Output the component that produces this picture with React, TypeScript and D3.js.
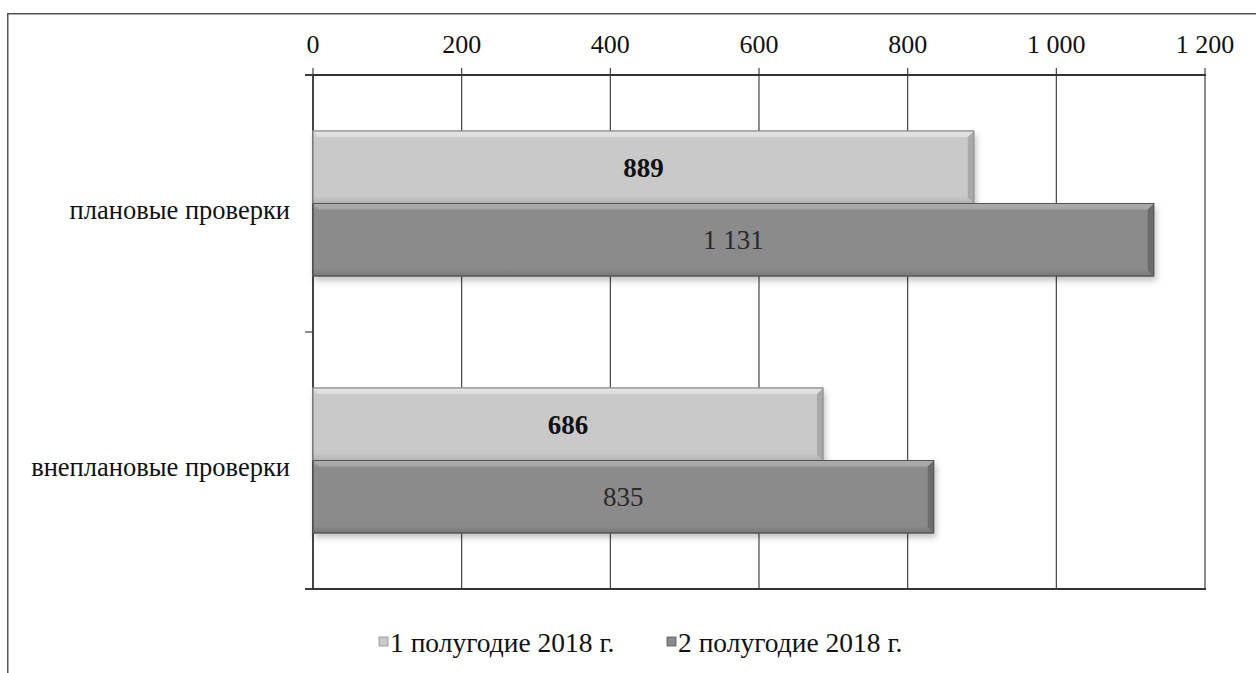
import React from "react";
import * as d3 from "d3";

const categories = ["плановые проверки", "внеплановые проверки"];
const seriesNames = ["1 полугодие 2018 г.", "2 полугодие 2018 г."];
const series1 = [889, 686];
const series2 = [1131, 835];
const xTicks = [0, 200, 400, 600, 800, 1000, 1200];

const W = 1256;
const H = 673;
const PL = 313;
const PR = 1205;
const PT = 75;
const PB = 589;

const fmt = (v: number) => d3.format(",")(v).replace(/,/g, " ");

const styles = [
  { fill: "#c9c9c9", hi: "#e2e2e2", lo: "#b3b3b3", edge: "#a9a9a9", stroke: "#8e8e8e", label: "#111", weight: 700 },
  { fill: "#8b8b8b", hi: "#ababab", lo: "#777", edge: "#6c6c6c", stroke: "#555", label: "#2a2a2a", weight: 400 },
];

const FONT = { fontFamily: "'Liberation Serif', 'Times New Roman', 'DejaVu Serif', serif" };

export default function App() {
  const x = d3.scaleLinear().domain([0, 1200]).range([PL, PR]);
  const y0 = d3.scaleBand<string>().domain(categories).range([PT, PB]).paddingInner(0.436).paddingOuter(0.218);
  const y1 = d3.scaleBand<string>().domain(["s1", "s2"]).range([0, y0.bandwidth()]);
  const data = [series1, series2];
  const catTicks = [PT, (PT + PB) / 2, PB];

  return (
    <svg width={W} height={H} style={{ position: "fixed", left: 0, top: 0, background: "#fff" }}>
      <defs>
        <filter id="sh" x="-5%" y="-20%" width="115%" height="160%">
          <feDropShadow dx="2" dy="4" stdDeviation="3" floodColor="#000" floodOpacity="0.25" />
        </filter>
        {styles.map((s, i) => (
          <linearGradient key={i} id={`g${i}`} x1="0" y1="0" x2="0" y2="1">
            <stop offset="0" stopColor={s.hi} />
            <stop offset="0.1" stopColor={s.fill} />
            <stop offset="0.9" stopColor={s.fill} />
            <stop offset="1" stopColor={s.lo} />
          </linearGradient>
        ))}
      </defs>
      <rect x={0} y={0} width={W} height={H} fill="#fff" />
      {/* frame */}
      <rect x={7} y={13} width={W - 7} height={1.5} fill="#555" />
      <rect x={7} y={13} width={1.5} height={H - 13} fill="#555" />

      {/* gridlines and top ticks */}
      {xTicks.map((t) => (
        <rect key={t} x={x(t) - 0.6} y={PT - 7} width={1.2} height={PB - PT + 7} fill="#444" />
      ))}
      <rect x={PL - 8} y={PT - 1} width={PR - PL + 9} height={2} fill="#333" />
      <rect x={PL - 8} y={PB - 1} width={PR - PL + 9} height={2} fill="#333" />
      <rect x={PL - 0.8} y={PT} width={1.6} height={PB - PT} fill="#333" />
      {catTicks.map((t, i) => (
        <rect key={i} x={PL - 8} y={t - 0.6} width={8} height={1.2} fill="#444" />
      ))}
      {xTicks.map((t) => (
        <text key={t} x={x(t)} y={53} textAnchor="middle" fontSize={26} fill="#111" style={FONT}>
          {fmt(t)}
        </text>
      ))}

      {/* bars */}
      {categories.map((c, ci) => (
        <g key={c}>
          {data.map((arr, si) => {
            const s = styles[si];
            const by = (y0(c) ?? 0) + (y1(si === 0 ? "s1" : "s2") ?? 0);
            const bh = y1.bandwidth();
            const bx = x(0);
            const bw = x(arr[ci]) - x(0);
            const bev = 6;
            return (
              <g key={si}>
                <rect x={bx} y={by} width={bw} height={bh} fill={`url(#g${si})`} stroke={s.stroke} strokeWidth={1} filter="url(#sh)" />
                <polygon
                  points={`${bx + bw - bev},${by + bev} ${bx + bw},${by} ${bx + bw},${by + bh} ${bx + bw - bev},${by + bh - bev}`}
                  fill={s.edge}
                />
                <polygon
                  points={`${bx},${by} ${bx + bw},${by} ${bx + bw - bev},${by + bev} ${bx + bev},${by + bev}`}
                  fill={s.hi}
                  opacity={0.8}
                />
                <rect x={bx} y={by} width={bw} height={bh} fill="none" stroke={s.stroke} strokeWidth={1} />
                <text
                  x={(x(0) + x(arr[ci])) / 2}
                  y={by + bh / 2}
                  dy="0.35em"
                  textAnchor="middle"
                  fontSize={27}
                  fontWeight={s.weight}
                  fill={s.label}
                  style={FONT}
                >
                  {fmt(arr[ci])}
                </text>
              </g>
            );
          })}
          <text x={290} y={(y0(c) ?? 0) + y0.bandwidth() / 2 + 6} dy="0.35em" textAnchor="end" fontSize={26.5} fill="#111" style={FONT}>
            {c}
          </text>
        </g>
      ))}

      {/* legend */}
      {seriesNames.map((n, i) => {
        const lx = i === 0 ? 379 : 667;
        return (
          <g key={n}>
            <rect x={lx} y={637} width={9} height={9} fill={styles[i].fill} stroke={styles[i].stroke} strokeWidth={0.8} />
            <text x={lx + 11} y={642} dy="0.35em" fontSize={27.5} fill="#111" style={FONT}>
              {n}
            </text>
          </g>
        );
      })}
    </svg>
  );
}
